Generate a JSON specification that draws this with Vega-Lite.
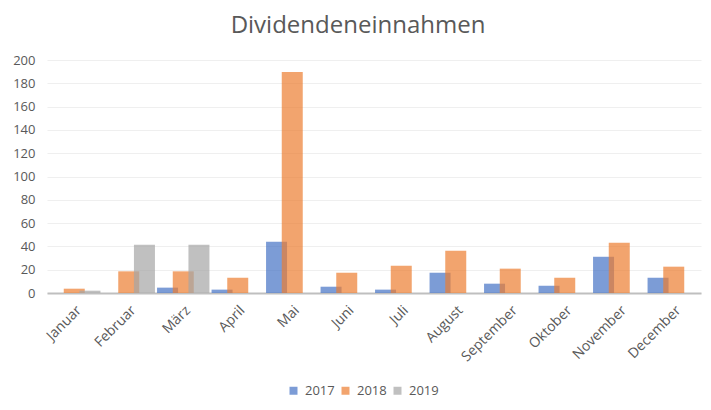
{
  "$schema": "https://vega.github.io/schema/vega-lite/v6.json",
  "width": 654,
  "height": 233,
  "autosize": {"type": "none"},
  "padding": {"left": 47, "top": 60, "right": 10, "bottom": 117},
  "background": "white",
  "title": {
    "text": "Dividendeneinnahmen",
    "font": "Open Sans",
    "fontSize": 24,
    "fontWeight": "normal",
    "color": "#595959",
    "anchor": "middle",
    "dx": -16,
    "offset": 16
  },
  "config": {
    "view": {"stroke": null},
    "font": "Open Sans"
  },
  "data": {
    "values": [
      {"monat": "Januar", "jahr": "2017", "wert": 0},
      {"monat": "Februar", "jahr": "2017", "wert": 0},
      {"monat": "März", "jahr": "2017", "wert": 4.6},
      {"monat": "April", "jahr": "2017", "wert": 2.9},
      {"monat": "Mai", "jahr": "2017", "wert": 44},
      {"monat": "Juni", "jahr": "2017", "wert": 5.4},
      {"monat": "Juli", "jahr": "2017", "wert": 2.9},
      {"monat": "August", "jahr": "2017", "wert": 17.4},
      {"monat": "September", "jahr": "2017", "wert": 8},
      {"monat": "Oktober", "jahr": "2017", "wert": 6.3},
      {"monat": "November", "jahr": "2017", "wert": 31.1},
      {"monat": "December", "jahr": "2017", "wert": 13.1},
      {"monat": "Januar", "jahr": "2018", "wert": 3.7},
      {"monat": "Februar", "jahr": "2018", "wert": 18.6},
      {"monat": "März", "jahr": "2018", "wert": 18.6},
      {"monat": "April", "jahr": "2018", "wert": 13.1},
      {"monat": "Mai", "jahr": "2018", "wert": 189.7},
      {"monat": "Juni", "jahr": "2018", "wert": 17.4},
      {"monat": "Juli", "jahr": "2018", "wert": 23.4},
      {"monat": "August", "jahr": "2018", "wert": 36.3},
      {"monat": "September", "jahr": "2018", "wert": 20.9},
      {"monat": "Oktober", "jahr": "2018", "wert": 13.1},
      {"monat": "November", "jahr": "2018", "wert": 43.1},
      {"monat": "December", "jahr": "2018", "wert": 22.6},
      {"monat": "Januar", "jahr": "2019", "wert": 2},
      {"monat": "Februar", "jahr": "2019", "wert": 41.4},
      {"monat": "März", "jahr": "2019", "wert": 41.4}
    ]
  },
  "mark": {"type": "bar", "width": 21, "opacity": 0.7},
  "encoding": {
    "x": {
      "field": "monat",
      "type": "nominal",
      "sort": ["Januar", "Februar", "März", "April", "Mai", "Juni", "Juli", "August", "September", "Oktober", "November", "December"],
      "scale": {"paddingInner": 0, "paddingOuter": 0},
      "axis": {
        "title": null,
        "labelAngle": -45,
        "labelFontSize": 14,
        "labelColor": "#595959",
        "domainColor": "#BFBFBF",
        "domainWidth": 2,
        "ticks": false,
        "labelPadding": 10,
        "grid": false
      }
    },
    "xOffset": {
      "field": "jahr",
      "type": "nominal",
      "scale": {"paddingInner": 0, "paddingOuter": 0.236}
    },
    "y": {
      "field": "wert",
      "type": "quantitative",
      "scale": {"domain": [0, 200]},
      "axis": {
        "title": null,
        "values": [0, 20, 40, 60, 80, 100, 120, 140, 160, 180, 200],
        "domain": false,
        "ticks": false,
        "labelFontSize": 13,
        "labelColor": "#595959",
        "labelPadding": 12,
        "gridColor": "#EFEFEF",
        "gridWidth": 1
      }
    },
    "color": {
      "field": "jahr",
      "type": "nominal",
      "scale": {"domain": ["2017", "2018", "2019"], "range": ["#4472C4", "#ED7D31", "#A5A5A5"]},
      "legend": {
        "title": null,
        "orient": "none",
        "legendX": 240,
        "legendY": 324,
        "direction": "horizontal",
        "symbolType": "square",
        "symbolSize": 64,
        "labelFontSize": 13,
        "labelColor": "#595959",
        "labelOffset": 5,
        "columnPadding": 4
      }
    }
  }
}
